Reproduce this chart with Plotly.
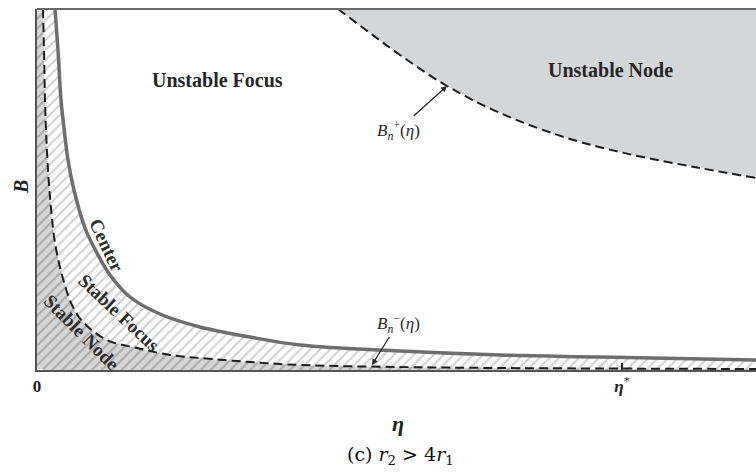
import plotly.graph_objects as go

# Axis extents (eta horizontally, B vertically)
ETA_MAX = 7.19
B_MAX = 3.61
ETA_STAR = 5.85

# Center curve: boundary between unstable and stable focus
center_eta = [0.18, 0.21, 0.24, 0.27, 0.31, 0.37, 0.48, 0.60, 0.73, 0.93,
              1.23, 1.63, 2.13, 2.63, 3.63, 4.63, 5.63, 7.19]
center_B = [3.61, 3.20, 2.70, 2.42, 2.10, 1.80, 1.42, 1.17, 0.95, 0.73,
            0.56, 0.43, 0.33, 0.25, 0.19, 0.15, 0.13, 0.10]

# B_n^-(eta): boundary between stable focus and stable node
lower_eta = [0.06, 0.07, 0.08, 0.09, 0.11, 0.14, 0.18, 0.25, 0.35, 0.46,
             0.70, 1.00, 1.33, 1.63, 2.13, 2.63, 3.63, 4.63, 7.19]
lower_B = [3.61, 3.20, 2.70, 2.40, 2.00, 1.62, 1.27, 0.95, 0.65, 0.48,
           0.30, 0.22, 0.15, 0.12, 0.08, 0.05, 0.03, 0.02, 0.01]

# B_n^+(eta): boundary between unstable focus and unstable node
upper_eta = [3.01, 3.33, 3.63, 4.10, 4.63, 5.30, 5.96, 6.63, 7.19]
upper_B = [3.61, 3.37, 3.15, 2.84, 2.57, 2.32, 2.15, 2.02, 1.92]

SERIF = "Liberation Serif"
DASH = "9px,5px"

# plot-area geometry in pixels
ML, MT, MB, W, H = 37, 9, 106, 756, 476
PW, PH = W - ML, H - MT - MB


def paper(px, py):
    return (px - ML) / PW, (H - MB - py) / PH


fig = go.Figure()

# top edge helper, used as the upper bound of the unstable-node fill
fig.add_trace(go.Scatter(x=[upper_eta[0], ETA_MAX], y=[B_MAX, B_MAX],
                         mode="lines", line=dict(width=0), hoverinfo="skip"))
# unstable node region (grey) bounded by B_n^+
fig.add_trace(go.Scatter(x=upper_eta, y=upper_B, mode="lines",
                         line=dict(color="#1e1e1e", width=2, dash=DASH, shape="spline"),
                         fill="tonexty", fillcolor="#d5d6d8", hoverinfo="skip"))

node_pattern = dict(shape="/", fgcolor="#7c7c7c", bgcolor="#d6d6d6",
                    size=7, solidity=0.28)
focus_pattern = dict(shape="/", fgcolor="#a2a2a2", bgcolor="#ffffff",
                     size=7, solidity=0.28)

# stable node region: below and left of B_n^-
fig.add_trace(go.Scatter(x=lower_eta, y=lower_B, mode="lines",
                         line=dict(width=0, shape="spline"),
                         fill="tozeroy", fillpattern=node_pattern,
                         fillcolor="#d6d6d6", hoverinfo="skip"))
fig.add_trace(go.Scatter(x=lower_eta, y=lower_B, mode="lines",
                         line=dict(width=0, shape="spline"),
                         fill="tozerox", fillpattern=node_pattern,
                         fillcolor="#d6d6d6", hoverinfo="skip"))
# stable focus region: between B_n^- and the center curve
fig.add_trace(go.Scatter(x=center_eta, y=center_B, mode="lines",
                         line=dict(width=0, shape="spline"),
                         fill="tonexty", fillpattern=focus_pattern,
                         fillcolor="#ffffff", hoverinfo="skip"))

# boundary curves on top
fig.add_trace(go.Scatter(x=lower_eta, y=lower_B, mode="lines",
                         line=dict(color="#1e1e1e", width=2, dash=DASH, shape="spline"),
                         hoverinfo="skip"))
fig.add_trace(go.Scatter(x=center_eta, y=center_B, mode="lines",
                         line=dict(color="#6e6e6e", width=3.5, shape="spline"),
                         hoverinfo="skip"))

region_font = dict(family=SERIF, size=20, color="#262626")
curve_label_font = dict(family=SERIF, size=19, color="#2e2e2e")
ann = []


def label(x, y, text, angle=0, font=region_font):
    ann.append(dict(x=x, y=y, xref="x", yref="y", text=text, showarrow=False,
                    textangle=angle, font=font, xanchor="center", yanchor="middle"))


def plabel(px, py, text, angle=0, font=region_font):
    x, y = paper(px, py)
    ann.append(dict(x=x, y=y, xref="paper", yref="paper", text=text,
                    showarrow=False, textangle=angle, font=font,
                    xanchor="center", yanchor="middle"))


label(1.80, 2.90, "<b>Unstable Focus</b>")
label(5.73, 3.00, "<b>Unstable Node</b>")
label(0.70, 1.25, "<b>Center</b>", 65, curve_label_font)
label(0.82, 0.58, "<b>Stable Focus</b>", 43, curve_label_font)
label(0.45, 0.38, "<b>Stable Node</b>", 45, curve_label_font)

curve_font = dict(family=SERIF, size=17, color="#2a2a2a")
ann.append(dict(x=upper_eta[3], y=upper_B[3], xref="x", yref="y",
                text="<i>B</i><sub><i>n</i></sub><sup>+</sup>(<i>η</i>)",
                showarrow=True, arrowhead=2, arrowsize=1, arrowwidth=1.2,
                arrowcolor="#222", ax=-49, ay=44, font=curve_font))
ann.append(dict(x=3.35, y=0.05, xref="x", yref="y",
                text="<i>B</i><sub><i>n</i></sub><sup>−</sup>(<i>η</i>)",
                showarrow=True, arrowhead=2, arrowsize=1, arrowwidth=1.2,
                arrowcolor="#222", ax=26, ay=-42, font=curve_font))

# axis titles and caption
plabel(398, 423, "<b><i>η</i></b>", 0, dict(family=SERIF, size=22, color="#222"))
plabel(21, 187, "<b><i>B</i></b>", -90, dict(family=SERIF, size=20, color="#222"))
plabel(400, 455, "(c) <i>r</i><sub>2</sub> &gt; 4<i>r</i><sub>1</sub>", 0,
       dict(family="DejaVu Serif", size=19, color="#111"))

fig.update_layout(
    width=W, height=H,
    margin=dict(l=ML, r=0, t=MT, b=MB),
    paper_bgcolor="white", plot_bgcolor="white",
    showlegend=False,
    annotations=ann,
    shapes=[dict(type="line", xref="paper", yref="paper", x0=0, x1=1, y0=1, y1=1,
                 line=dict(color="#6a6a6a", width=2))],
)
fig.update_xaxes(range=[0, ETA_MAX], showgrid=False, zeroline=False,
                 showline=True, linecolor="#555", linewidth=2,
                 tickvals=[0, ETA_STAR],
                 ticktext=["<b>0</b>", "<b><i>η</i></b><sup>*</sup>"],
                 ticks="inside", ticklen=7, tickcolor="#222", tickwidth=1.5,
                 layer="above traces",
                 tickfont=dict(family=SERIF, size=17, color="#222"))
fig.update_yaxes(range=[0, B_MAX], showgrid=False, zeroline=False,
                 showline=True, linecolor="#555", linewidth=2,
                 showticklabels=False, ticks="")

fig.write_html("out.html")
